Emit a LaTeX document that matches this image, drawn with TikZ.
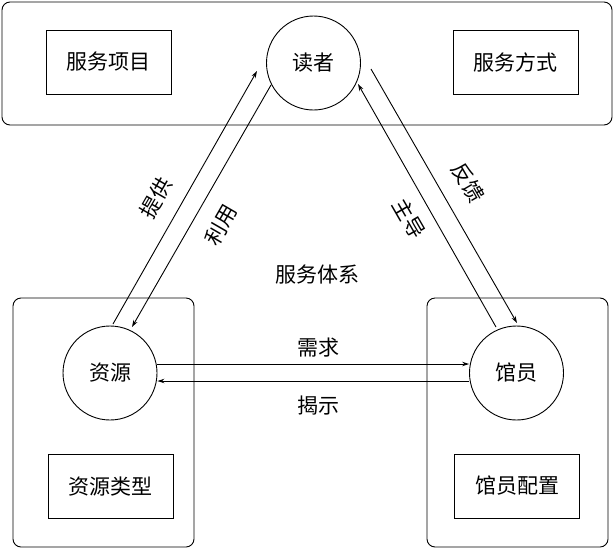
\documentclass[tikz,border=0pt]{standalone}
\usepackage{fontspec}
\newfontfamily\cjk{Noto Sans CJK SC}
\usetikzlibrary{calc,positioning,arrows.meta}

\tikzset{
  txt/.style={font=\cjk\fontsize{21}{25}\selectfont, inner sep=0pt},
  ring/.style={txt, draw, circle, line width=0.9pt, minimum size=94pt},
  tag/.style={txt, draw, rectangle, line width=0.9pt, minimum width=125pt, minimum height=64pt},
  zone/.style={draw, line width=0.9pt, rounded corners=8pt},
  arr/.style={line width=0.9pt, -{Stealth[length=7pt,width=4.5pt]}}
}

\begin{document}
\begin{tikzpicture}[x=1pt,y=-1pt]
\useasboundingbox (0,0) rectangle (615,549);

% the three groups
\draw[zone] (2,2) rectangle (612,125);
\draw[zone] (13,298) rectangle (194,547);
\draw[zone] (427,298) rectangle (608,547);

\node[ring] (dz) at (313.5,63) {读者};
\node[ring] (zy) at (110,373) {资源};
\node[ring] (gy) at (516.5,373) {馆员};

\node[tag] (fwxm) at (108.5,62) {服务项目};
\node[tag] (fwfs) at (515.5,62) {服务方式};
\node[tag] (zylx) at (110.5,486.5) {资源类型};
\node[tag] (gypz) at (517,486) {馆员配置};

\node[txt] (fwtx) at (317,275) {服务体系};

% free ends of the slanted arrows
\coordinate (tg-s) at (113,324);
\coordinate (tg-e) at (257,71);
\coordinate (ly-s) at (271,85);
\coordinate (ly-e) at (132,327);
\coordinate (zd-s) at (496,327);
\coordinate (zd-e) at (358,84);
\coordinate (fk-s) at (371,69);
\coordinate (fk-e) at (517,323);

\draw[arr] (tg-s) to (tg-e);
\draw[arr] (ly-s) to (ly-e);
\draw[arr] (zd-s) to (zd-e);
\draw[arr] (fk-s) to (fk-e);

\draw[arr] (zy.east |- 0,364) to (gy.west |- 0,364);
\draw[arr] (gy.west |- 0,381) to (zy.east |- 0,381);

\node[txt, rotate=60] (tg) at (156,198) {提供};
\node[txt, rotate=60] (ly) at (221,225) {利用};
\node[txt, rotate=-60] (zd) at (409,219) {主导};
\node[txt, rotate=-60] (fk) at (468,183) {反馈};
\node[txt] (xq) at (318,348) {需求};
\node[txt] (js) at (318,406) {揭示};

\end{tikzpicture}
\end{document}
